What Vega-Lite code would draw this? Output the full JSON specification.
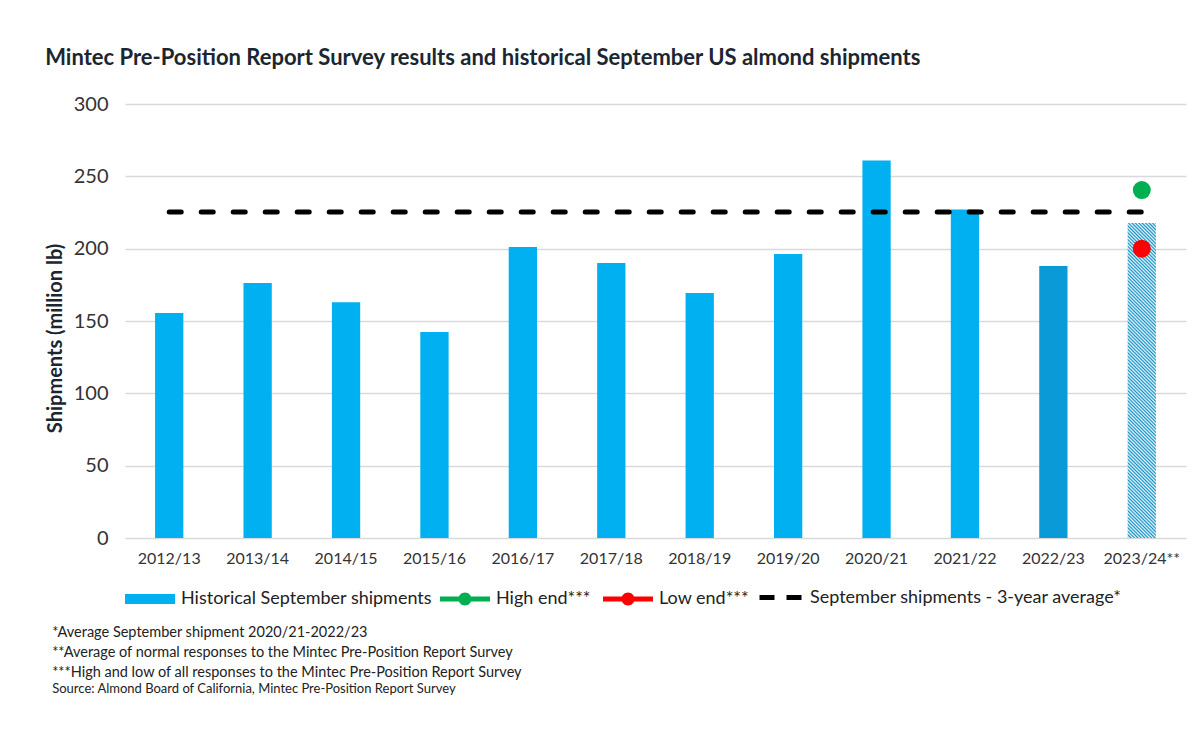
{
  "$schema": "https://vega.github.io/schema/vega-lite/v6.json",
  "autosize": {"type": "pad"},
  "padding": {"left": 45, "top": 47, "right": 17, "bottom": 5},
  "background": "white",
  "config": {
    "view": {"stroke": null},
    "font": "Lato",
    "legend": {
      "orient": "bottom", "direction": "horizontal", "offset": 8,
      "labelFontSize": 18, "labelColor": "#222222", "labelOffset": 6, "labelLimit": 400, "columnPadding": 12
    }
  },
  "title": {
    "text": ["*Average September shipment 2020/21-2022/23", "**Average of normal responses to the Mintec Pre-Position Report Survey", "***High and low of all responses to the Mintec Pre-Position Report Survey"],
    "subtitle": "Source: Almond Board of California, Mintec Pre-Position Report Survey",
    "orient": "bottom", "anchor": "start", "frame": "bounds",
    "fontSize": 14.5, "fontWeight": "normal", "font": "Lato", "color": "#222222", "lineHeight": 20,
    "subtitleFontSize": 13, "subtitleColor": "#222222", "subtitleFont": "Lato", "subtitlePadding": 2,
    "offset": 18, "dx": 7
  },
  "vconcat": [
    {
      "width": 1061,
      "height": 434,
      "title": {"text": "Mintec Pre-Position Report Survey results and historical September US almond shipments", "anchor": "start", "fontSize": 22, "font": "Lato", "fontWeight": "bold", "color": "#1b2631", "offset": 24},
      "data": {"values": [
        {"year": "2012/13", "shipments": 155.5},
        {"year": "2013/14", "shipments": 176.3},
        {"year": "2014/15", "shipments": 163.0},
        {"year": "2015/16", "shipments": 142.4},
        {"year": "2016/17", "shipments": 201.1},
        {"year": "2017/18", "shipments": 190.1},
        {"year": "2018/19", "shipments": 169.4},
        {"year": "2019/20", "shipments": 196.3},
        {"year": "2020/21", "shipments": 261.0},
        {"year": "2021/22", "shipments": 227.0},
        {"year": "2022/23", "shipments": 188.0},
        {"year": "2023/24**", "shipments": 217.7}
      ]},
      "encoding": {
        "x": {
          "field": "year", "type": "nominal",
          "scale": {"domain": ["2012/13","2013/14","2014/15","2015/16","2016/17","2017/18","2018/19","2019/20","2020/21","2021/22","2022/23","2023/24**"], "paddingInner": 0.68, "paddingOuter": 0.34},
          "axis": {"title": null, "labelAngle": 0, "labelFontSize": 16, "labelColor": "#333333", "labelPadding": 12, "domain": false, "ticks": false, "grid": false}
        }
      },
      "layer": [
        {
          "transform": [{"filter": "datum.year != '2023/24**' && datum.year != '2022/23'"}],
          "mark": {"type": "bar"},
          "encoding": {
            "y": {"field": "shipments", "type": "quantitative",
              "scale": {"domain": [0, 300]},
              "axis": {"title": "Shipments (million lb)", "titleFontSize": 20, "titleFontWeight": "bold", "titleColor": "#1b2631", "titlePadding": 8, "titleY": 234,
                "labelFontSize": 20, "labelColor": "#333333", "labelPadding": 17, "values": [0, 50, 100, 150, 200, 250, 300],
                "grid": true, "gridColor": "#d9d9d9", "gridWidth": 1.5, "domain": false, "ticks": false}},
            "color": {"datum": "Historical September shipments", "type": "nominal",
              "scale": {"domain": ["Historical September shipments"], "range": ["#00b0f0"]},
              "legend": {"title": null, "symbolType": "M-1,-0.2H1V0.2H-1Z", "symbolSize": 2500, "symbolStrokeWidth": 0, "symbolOpacity": 1}}
          }
        },
        {
          "transform": [{"filter": "datum.year == '2022/23'"}],
          "mark": {"type": "bar", "color": "#0a9ad8"},
          "encoding": {"y": {"field": "shipments", "type": "quantitative"}}
        },
        {
          "transform": [{"filter": "datum.year == '2023/24**'"}],
          "mark": {"type": "bar", "color": {"gradient": "linear", "x1": 0, "y1": 1, "x2": 0.0972, "y2": -0.0811, "stops": [
{"offset":0,"color":"#1592c8"},{"offset":0.005,"color":"#eef8fc"},{"offset":0.01,"color":"#1592c8"},{"offset":0.015,"color":"#eef8fc"},{"offset":0.02,"color":"#1592c8"},{"offset":0.025,"color":"#eef8fc"},{"offset":0.03,"color":"#1592c8"},{"offset":0.035,"color":"#eef8fc"},{"offset":0.04,"color":"#1592c8"},{"offset":0.045,"color":"#eef8fc"},
{"offset":0.05,"color":"#1592c8"},{"offset":0.055,"color":"#eef8fc"},{"offset":0.06,"color":"#1592c8"},{"offset":0.065,"color":"#eef8fc"},{"offset":0.07,"color":"#1592c8"},{"offset":0.075,"color":"#eef8fc"},{"offset":0.08,"color":"#1592c8"},{"offset":0.085,"color":"#eef8fc"},{"offset":0.09,"color":"#1592c8"},{"offset":0.095,"color":"#eef8fc"},
{"offset":0.1,"color":"#1592c8"},{"offset":0.105,"color":"#eef8fc"},{"offset":0.11,"color":"#1592c8"},{"offset":0.115,"color":"#eef8fc"},{"offset":0.12,"color":"#1592c8"},{"offset":0.125,"color":"#eef8fc"},{"offset":0.13,"color":"#1592c8"},{"offset":0.135,"color":"#eef8fc"},{"offset":0.14,"color":"#1592c8"},{"offset":0.145,"color":"#eef8fc"},
{"offset":0.15,"color":"#1592c8"},{"offset":0.155,"color":"#eef8fc"},{"offset":0.16,"color":"#1592c8"},{"offset":0.165,"color":"#eef8fc"},{"offset":0.17,"color":"#1592c8"},{"offset":0.175,"color":"#eef8fc"},{"offset":0.18,"color":"#1592c8"},{"offset":0.185,"color":"#eef8fc"},{"offset":0.19,"color":"#1592c8"},{"offset":0.195,"color":"#eef8fc"},
{"offset":0.2,"color":"#1592c8"},{"offset":0.205,"color":"#eef8fc"},{"offset":0.21,"color":"#1592c8"},{"offset":0.215,"color":"#eef8fc"},{"offset":0.22,"color":"#1592c8"},{"offset":0.225,"color":"#eef8fc"},{"offset":0.23,"color":"#1592c8"},{"offset":0.235,"color":"#eef8fc"},{"offset":0.24,"color":"#1592c8"},{"offset":0.245,"color":"#eef8fc"},
{"offset":0.25,"color":"#1592c8"},{"offset":0.255,"color":"#eef8fc"},{"offset":0.26,"color":"#1592c8"},{"offset":0.265,"color":"#eef8fc"},{"offset":0.27,"color":"#1592c8"},{"offset":0.275,"color":"#eef8fc"},{"offset":0.28,"color":"#1592c8"},{"offset":0.285,"color":"#eef8fc"},{"offset":0.29,"color":"#1592c8"},{"offset":0.295,"color":"#eef8fc"},
{"offset":0.3,"color":"#1592c8"},{"offset":0.305,"color":"#eef8fc"},{"offset":0.31,"color":"#1592c8"},{"offset":0.315,"color":"#eef8fc"},{"offset":0.32,"color":"#1592c8"},{"offset":0.325,"color":"#eef8fc"},{"offset":0.33,"color":"#1592c8"},{"offset":0.335,"color":"#eef8fc"},{"offset":0.34,"color":"#1592c8"},{"offset":0.345,"color":"#eef8fc"},
{"offset":0.35,"color":"#1592c8"},{"offset":0.355,"color":"#eef8fc"},{"offset":0.36,"color":"#1592c8"},{"offset":0.365,"color":"#eef8fc"},{"offset":0.37,"color":"#1592c8"},{"offset":0.375,"color":"#eef8fc"},{"offset":0.38,"color":"#1592c8"},{"offset":0.385,"color":"#eef8fc"},{"offset":0.39,"color":"#1592c8"},{"offset":0.395,"color":"#eef8fc"},
{"offset":0.4,"color":"#1592c8"},{"offset":0.405,"color":"#eef8fc"},{"offset":0.41,"color":"#1592c8"},{"offset":0.415,"color":"#eef8fc"},{"offset":0.42,"color":"#1592c8"},{"offset":0.425,"color":"#eef8fc"},{"offset":0.43,"color":"#1592c8"},{"offset":0.435,"color":"#eef8fc"},{"offset":0.44,"color":"#1592c8"},{"offset":0.445,"color":"#eef8fc"},
{"offset":0.45,"color":"#1592c8"},{"offset":0.455,"color":"#eef8fc"},{"offset":0.46,"color":"#1592c8"},{"offset":0.465,"color":"#eef8fc"},{"offset":0.47,"color":"#1592c8"},{"offset":0.475,"color":"#eef8fc"},{"offset":0.48,"color":"#1592c8"},{"offset":0.485,"color":"#eef8fc"},{"offset":0.49,"color":"#1592c8"},{"offset":0.495,"color":"#eef8fc"},
{"offset":0.5,"color":"#1592c8"},{"offset":0.505,"color":"#eef8fc"},{"offset":0.51,"color":"#1592c8"},{"offset":0.515,"color":"#eef8fc"},{"offset":0.52,"color":"#1592c8"},{"offset":0.525,"color":"#eef8fc"},{"offset":0.53,"color":"#1592c8"},{"offset":0.535,"color":"#eef8fc"},{"offset":0.54,"color":"#1592c8"},{"offset":0.545,"color":"#eef8fc"},
{"offset":0.55,"color":"#1592c8"},{"offset":0.555,"color":"#eef8fc"},{"offset":0.56,"color":"#1592c8"},{"offset":0.565,"color":"#eef8fc"},{"offset":0.57,"color":"#1592c8"},{"offset":0.575,"color":"#eef8fc"},{"offset":0.58,"color":"#1592c8"},{"offset":0.585,"color":"#eef8fc"},{"offset":0.59,"color":"#1592c8"},{"offset":0.595,"color":"#eef8fc"},
{"offset":0.6,"color":"#1592c8"},{"offset":0.605,"color":"#eef8fc"},{"offset":0.61,"color":"#1592c8"},{"offset":0.615,"color":"#eef8fc"},{"offset":0.62,"color":"#1592c8"},{"offset":0.625,"color":"#eef8fc"},{"offset":0.63,"color":"#1592c8"},{"offset":0.635,"color":"#eef8fc"},{"offset":0.64,"color":"#1592c8"},{"offset":0.645,"color":"#eef8fc"},
{"offset":0.65,"color":"#1592c8"},{"offset":0.655,"color":"#eef8fc"},{"offset":0.66,"color":"#1592c8"},{"offset":0.665,"color":"#eef8fc"},{"offset":0.67,"color":"#1592c8"},{"offset":0.675,"color":"#eef8fc"},{"offset":0.68,"color":"#1592c8"},{"offset":0.685,"color":"#eef8fc"},{"offset":0.69,"color":"#1592c8"},{"offset":0.695,"color":"#eef8fc"},
{"offset":0.7,"color":"#1592c8"},{"offset":0.705,"color":"#eef8fc"},{"offset":0.71,"color":"#1592c8"},{"offset":0.715,"color":"#eef8fc"},{"offset":0.72,"color":"#1592c8"},{"offset":0.725,"color":"#eef8fc"},{"offset":0.73,"color":"#1592c8"},{"offset":0.735,"color":"#eef8fc"},{"offset":0.74,"color":"#1592c8"},{"offset":0.745,"color":"#eef8fc"},
{"offset":0.75,"color":"#1592c8"},{"offset":0.755,"color":"#eef8fc"},{"offset":0.76,"color":"#1592c8"},{"offset":0.765,"color":"#eef8fc"},{"offset":0.77,"color":"#1592c8"},{"offset":0.775,"color":"#eef8fc"},{"offset":0.78,"color":"#1592c8"},{"offset":0.785,"color":"#eef8fc"},{"offset":0.79,"color":"#1592c8"},{"offset":0.795,"color":"#eef8fc"},
{"offset":0.8,"color":"#1592c8"},{"offset":0.805,"color":"#eef8fc"},{"offset":0.81,"color":"#1592c8"},{"offset":0.815,"color":"#eef8fc"},{"offset":0.82,"color":"#1592c8"},{"offset":0.825,"color":"#eef8fc"},{"offset":0.83,"color":"#1592c8"},{"offset":0.835,"color":"#eef8fc"},{"offset":0.84,"color":"#1592c8"},{"offset":0.845,"color":"#eef8fc"},
{"offset":0.85,"color":"#1592c8"},{"offset":0.855,"color":"#eef8fc"},{"offset":0.86,"color":"#1592c8"},{"offset":0.865,"color":"#eef8fc"},{"offset":0.87,"color":"#1592c8"},{"offset":0.875,"color":"#eef8fc"},{"offset":0.88,"color":"#1592c8"},{"offset":0.885,"color":"#eef8fc"},{"offset":0.89,"color":"#1592c8"},{"offset":0.895,"color":"#eef8fc"},
{"offset":0.9,"color":"#1592c8"},{"offset":0.905,"color":"#eef8fc"},{"offset":0.91,"color":"#1592c8"},{"offset":0.915,"color":"#eef8fc"},{"offset":0.92,"color":"#1592c8"},{"offset":0.925,"color":"#eef8fc"},{"offset":0.93,"color":"#1592c8"},{"offset":0.935,"color":"#eef8fc"},{"offset":0.94,"color":"#1592c8"},{"offset":0.945,"color":"#eef8fc"},
{"offset":0.95,"color":"#1592c8"},{"offset":0.955,"color":"#eef8fc"},{"offset":0.96,"color":"#1592c8"},{"offset":0.965,"color":"#eef8fc"},{"offset":0.97,"color":"#1592c8"},{"offset":0.975,"color":"#eef8fc"},{"offset":0.98,"color":"#1592c8"},{"offset":0.985,"color":"#eef8fc"},{"offset":0.99,"color":"#1592c8"},{"offset":0.995,"color":"#eef8fc"},
{"offset":1,"color":"#1592c8"}
          ]}},
          "encoding": {"y": {"field": "shipments", "type": "quantitative"}}
        },
        {
          "data": {"values": [
            {"year": "2023/24**", "kind": "High end***", "value": 240.5},
            {"year": "2023/24**", "kind": "Low end***", "value": 200.0}
          ]},
          "mark": {"type": "circle", "size": 324, "opacity": 1},
          "encoding": {
            "x": {"field": "year", "type": "nominal"},
            "y": {"field": "value", "type": "quantitative"},
            "fill": {"field": "kind", "type": "nominal",
              "scale": {"domain": ["High end***", "Low end***"], "range": ["#00b050", "#ff0000"]},
              "legend": {"title": null, "symbolType": "M-1,-0.1H1V0.1H-1Z M-0.26,0A0.26,0.26 0 1,1 0.26,0A0.26,0.26 0 1,1 -0.26,0Z", "symbolSize": 2500, "symbolStrokeWidth": 0, "symbolOpacity": 1}}
          }
        },
        {
          "data": {"values": [{"label": "September shipments - 3-year average*", "from": "2012/13", "to": "2023/24**", "value": 225.3}]},
          "mark": {"type": "rule", "strokeWidth": 5, "strokeDash": [12, 20], "strokeCap": "round"},
          "encoding": {
            "x": {"field": "from", "type": "nominal"},
            "x2": {"field": "to"},
            "y": {"field": "value", "type": "quantitative"},
            "stroke": {"field": "label", "type": "nominal",
              "scale": {"range": ["#000000"]},
              "legend": {"title": null, "symbolType": "stroke", "symbolSize": 1764, "symbolStrokeWidth": 5, "symbolDash": [15, 12], "symbolOpacity": 1}}
          }
        }
      ]
    }
  ]
}
